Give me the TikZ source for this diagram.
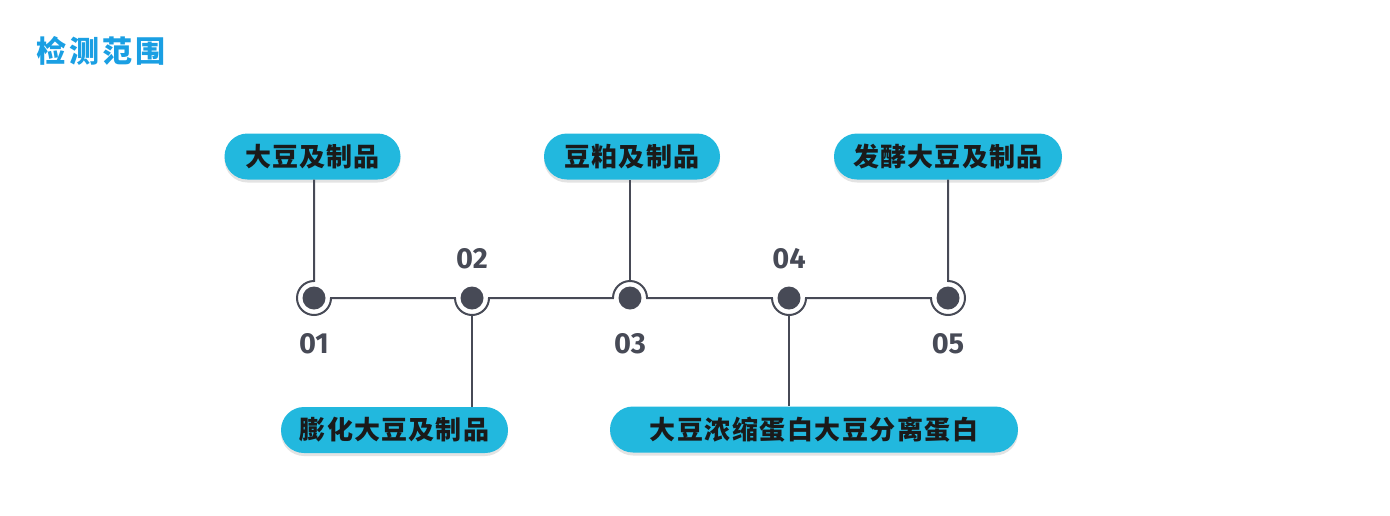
\documentclass[tikz,border=0pt]{standalone}
\usepackage{fontspec}
\usetikzlibrary{shadows,calc}
\newfontfamily\cjk{Noto Sans CJK SC Black}
\newfontfamily\cjktitle{Noto Sans CJK SC Black}
\newfontfamily\numf{Fira Sans Bold}
\definecolor{pillc}{HTML}{22B8DE}
\definecolor{titlec}{HTML}{1A9FE3}
\definecolor{linec}{HTML}{474A56}
\definecolor{txtc}{HTML}{1A1A1A}
\newcommand\spc[2]{\def\spcpitch{#1}\spcloop#2\relax}
\def\spcloop#1{\ifx#1\relax\else\makebox[\spcpitch][c]{#1}\expandafter\spcloop\fi}
\newcommand\lbl[3]{\raisebox{#1}{\spc{#2}{#3}}}
\begin{document}
\begin{tikzpicture}[x=1pt,y=1pt,
  pill/.style={fill=pillc, rounded corners=23pt, minimum height=46pt, inner sep=0pt,
    text=txtc, font=\cjk\fontsize{26}{26}\selectfont,
    drop shadow={shadow xshift=0pt, shadow yshift=-3pt, fill=black!60, opacity=0.18}},
  dotn/.style={circle, fill=linec, minimum size=23pt, inner sep=0pt},
  num/.style={text=linec, inner sep=0pt, font=\numf\fontsize{29}{29}\selectfont},
  conn/.style={draw=linec, line width=2pt}]
\useasboundingbox (0,0) rectangle (1390,-515);
\node[anchor=west, inner sep=0pt, text=titlec, font=\cjktitle\fontsize{30}{30}\selectfont] (title) at (35,-50.5) {\spc{33pt}{检测范围}};

\node[dotn] (d1) at (314,-298) {};
\node[dotn] (d2) at (472,-298) {};
\node[dotn] (d3) at (630,-298) {};
\node[dotn] (d4) at (789,-298) {};
\node[dotn] (d5) at (948,-298) {};

\node[pill, minimum width=176pt] (p1) at (312.5,-156.5) {\lbl{-3.5pt}{27.2pt}{大豆及制品}};
\node[pill, minimum width=176pt] (p2) at (632,-156.5) {\lbl{-3.5pt}{27.2pt}{豆粕及制品}};
\node[pill, minimum width=228pt] (p3) at (948,-156.5) {\lbl{-3.5pt}{27.2pt}{发酵大豆及制品}};
\node[pill, minimum width=227pt] (p4) at (394.5,-430) {\lbl{-1.5pt}{27.2pt}{膨化大豆及制品}};
\node[pill, minimum width=408pt] (p5) at (814,-429.5) {\lbl{-1pt}{27.5pt}{大豆浓缩蛋白大豆分离蛋白}};

\node[num] (n1) at (314,-344) {01};
\node[num] (n2) at (472,-259) {02};
\node[num] (n3) at (630,-344) {03};
\node[num] (n4) at (789,-259) {04};
\node[num] (n5) at (948,-344) {05};

\draw[conn] (p1.south -| d1) -- ($(d1)+(0,17)$) arc[start angle=90, end angle=360, radius=17pt]
  -- ($(d2)+(-17,0)$) arc[start angle=180, end angle=360, radius=17pt]
  -- ($(d3)+(-17,0)$) arc[start angle=180, end angle=0, radius=17pt]
  -- ($(d4)+(-17,0)$) arc[start angle=180, end angle=360, radius=17pt]
  -- ($(d5)+(-17,0)$) arc[start angle=180, end angle=450, radius=17pt]
  -- (p3.south -| d5);
\draw[conn] ($(d2)+(0,-17)$) -- (p4.north -| d2);
\draw[conn] ($(d3)+(0,17)$) -- (p2.south -| d3);
\draw[conn] ($(d4)+(0,-17)$) -- (p5.north -| d4);
\end{tikzpicture}
\end{document}
